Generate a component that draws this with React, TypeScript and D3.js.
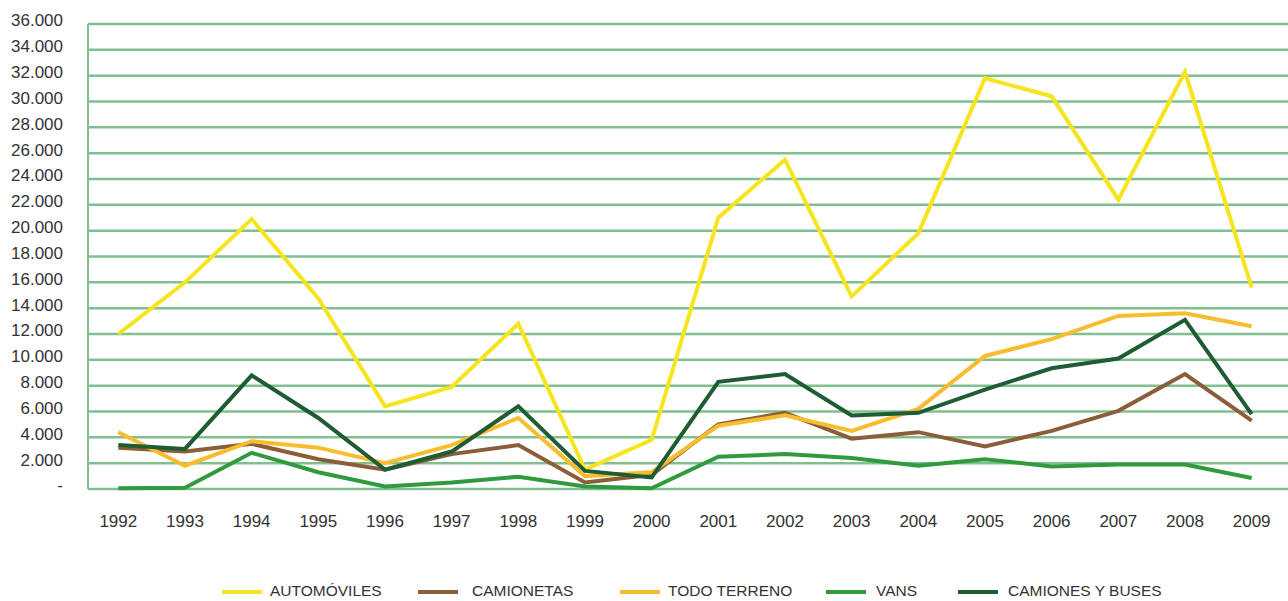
import React from "react";
import * as d3 from "d3";

const years = [1992, 1993, 1994, 1995, 1996, 1997, 1998, 1999, 2000, 2001, 2002, 2003, 2004, 2005, 2006, 2007, 2008, 2009];

const automoviles = [12000, 16000, 20900, 14750, 6400, 7900, 12800, 1500, 3800, 21000, 25500, 14900, 19800, 31800, 30400, 22400, 32300, 15600];
const camionetas = [3200, 2900, 3500, 2300, 1500, 2700, 3400, 500, 1100, 5000, 5900, 3900, 4400, 3300, 4500, 6050, 8900, 5300];
const todoTerreno = [4400, 1800, 3700, 3200, 2000, 3400, 5500, 1000, 1300, 4900, 5700, 4500, 6200, 10300, 11600, 13400, 13600, 12600];
const vans = [50, 100, 2800, 1300, 200, 500, 950, 200, 50, 2500, 2700, 2400, 1800, 2300, 1750, 1900, 1900, 850];
const camionesBuses = [3400, 3100, 8800, 5500, 1500, 2900, 6400, 1400, 900, 8300, 8900, 5700, 5900, 7700, 9350, 10100, 13100, 5800];

const yTicks = [0, 2000, 4000, 6000, 8000, 10000, 12000, 14000, 16000, 18000, 20000, 22000, 24000, 26000, 28000, 30000, 32000, 34000, 36000];

const seriesNames = ["AUTOMÓVILES", "CAMIONETAS", "TODO TERRENO", "VANS", "CAMIONES Y BUSES"];
const seriesValues = [automoviles, camionetas, todoTerreno, vans, camionesBuses];
const seriesColors = ["#f6e51e", "#8b5e3a", "#f7bd2e", "#2f9a3e", "#1e5c34"];

export default function App() {
  const W = 1288;
  const H = 601;
  const x = d3.scalePoint<number>().domain(years).range([85, 1285]).padding(0.5);
  const plotLeft = 88;
  const plotRight = 1288;
  const y = d3.scaleLinear().domain([0, 36000]).range([489, 24]);
  const line = d3
    .line<number>()
    .x((_, i) => x(years[i]) as number)
    .y((d) => y(d));

  const fmt = (v: number) => (v === 0 ? "-" : d3.format(",")(v).replace(/,/g, "."));

  const legendSampleX = [222, 418, 620, 826, 958];
  const legendTextX = [270, 472, 668, 876, 1008];

  return (
    <svg
      width={W}
      height={H}
      style={{ position: "absolute", left: 0, top: 0, background: "#ffffff" }}
      fontFamily="'Liberation Sans', Arial, sans-serif"
    >
      {yTicks.map((t) => (
        <line
          key={t}
          x1={plotLeft}
          x2={plotRight}
          y1={y(t)}
          y2={y(t)}
          stroke="#82bf8e"
          strokeWidth={2.5}
        />
      ))}
      <line x1={plotLeft} x2={plotLeft} y1={y(36000)} y2={y(0)} stroke="#82bf8e" strokeWidth={2} />

      {yTicks.map((t) => (
        <text
          key={"l" + t}
          x={63}
          y={y(t) - 2}
          textAnchor="end"
          dominantBaseline="middle"
          fontSize={17}
          fill="#333333"
        >
          {fmt(t)}
        </text>
      ))}

      {years.map((yr) => (
        <text
          key={yr}
          x={x(yr) as number}
          y={523}
          textAnchor="middle"
          dominantBaseline="middle"
          fontSize={17}
          fill="#333333"
        >
          {yr}
        </text>
      ))}

      {seriesValues.map((vals, k) => (
        <path
          key={seriesNames[k]}
          d={line(vals) || ""}
          fill="none"
          stroke={seriesColors[k]}
          strokeWidth={4}
          strokeLinejoin="miter"
        />
      ))}

      {seriesNames.map((n, k) => (
        <g key={"lg" + n}>
          <line
            x1={legendSampleX[k]}
            x2={legendSampleX[k] + 40}
            y1={592}
            y2={592}
            stroke={seriesColors[k]}
            strokeWidth={4}
          />
          <text x={legendTextX[k]} y={592} dominantBaseline="middle" fontSize={15.5} fill="#333333">
            {n}
          </text>
        </g>
      ))}
    </svg>
  );
}
